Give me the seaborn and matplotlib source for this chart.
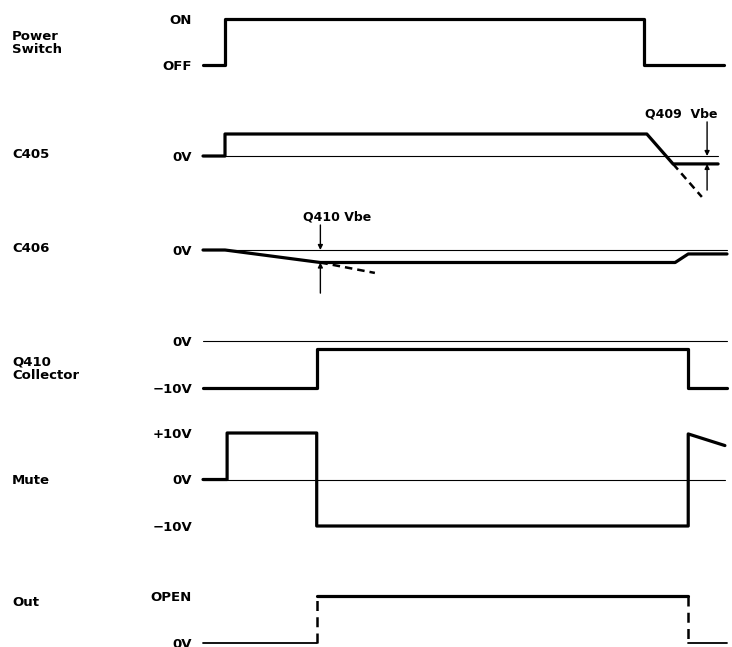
import numpy as np
import pandas as pd
import matplotlib
matplotlib.use("Agg")
import matplotlib.pyplot as plt
import seaborn as sns

sns.set_style("white")
plt.rcParams['font.family'] = ['DejaVu Sans']
plt.rcParams['text.color'] = 'black'
plt.rcParams['ytick.color'] = 'black'
plt.rcParams['ytick.labelcolor'] = 'black'

# ---------------- data (time in arbitrary units, levels in each signal's units) -------------
row_names = ["Power\nSwitch", "C405", "C406", "Q410\nCollector", "Mute", "Out"]

power_t = [0, 4.2, 4.2, 84.2, 84.2, 99.4]
power_v = [0, 0, 1, 1, 0, 0]
power_ticks = [0, 1]
power_ticklabels = ["OFF", "ON"]

c405_t = [0, 4.2, 4.2, 84.7, 89.7, 98.3]
c405_v = [0, 0, 1, 1, -0.36, -0.36]
c405_zero_t = [0, 98.3]
c405_dash_t = [89.7, 95.2]
c405_dash_v = [-0.36, -1.86]
c405_ticks = [0]
c405_ticklabels = ["0V"]

c406_t = [0, 4.2, 22.4, 90.1, 92.6, 100.0]
c406_v = [0, 0, -0.6, -0.6, -0.19, -0.19]
c406_zero_t = [0, 100.0]
c406_dash_t = [22.4, 32.8]
c406_dash_v = [-0.6, -1.1]
c406_ticks = [0]
c406_ticklabels = ["0V"]

q410_t = [0, 21.7, 21.7, 92.6, 92.6, 100.0]
q410_v = [-10, -10, -1.7, -1.7, -10, -10]
q410_zero_t = [0, 100.0]
q410_ticks = [0, -10]
q410_ticklabels = ["0V", "\u221210V"]

mute_t = [0, 4.6, 4.6, 21.7, 21.7, 92.6, 92.6, 99.6]
mute_v = [0, 0, 10, 10, -10, -10, 9.8, 7.3]
mute_zero_t = [0, 99.6]
mute_ticks = [10, 0, -10]
mute_ticklabels = ["+10V", "0V", "\u221210V"]

out_low1_t = [0, 21.8]
out_high_t = [21.8, 92.6]
out_low2_t = [92.6, 100.0]
out_ticks = [1, 0]
out_ticklabels = ["OPEN", "0V"]

# ---------------- layout --------------------------------------------------------------
W, H = 732, 647
fig = plt.figure(figsize=(W / 100, H / 100), dpi=100)
X0 = 203  # px where the waveform area starts
PX_PER_T = 5.24

# (value_a, px_a, value_b, px_b) vertical calibration for each row
calib = [
    (1, 19, 0, 65),
    (1, 134, 0, 156),
    (0, 250, -0.6, 262.5),
    (0, 341, -10, 388),
    (10, 433, -10, 526),
    (1, 596, 0, 643),
]
label_y = [43, 155, 248, 369, 480, 602]

THICK = 2.3
THIN = 0.8
BLACK = "black"
FS_TICK = 9.5
FS_ROW = 9.5
FS_ANN = 9.0


def make_ax(i):
    ax = fig.add_axes([X0 / W, 0, (W - X0) / W, 1])
    ax.patch.set_alpha(0)
    va, pa, vb, pb = calib[i]
    s = (pb - pa) / (va - vb)  # px per unit
    hi = va + pa / s
    lo = hi - H / s
    ax.set_ylim(lo, hi)
    ax.set_xlim(0, (W - X0) / PX_PER_T)
    fig.text(12 / W, 1 - label_y[i] / H, row_names[i], ha="left", va="center",
             fontsize=FS_ROW, fontweight="bold", linespacing=1.05, color=BLACK)
    return ax


def finish(ax, ticks, labels):
    for sp in ax.spines.values():
        sp.set_visible(False)
    ax.set_xticks([])
    ax.set_yticks(ticks, labels)
    ax.tick_params(axis="y", length=0, pad=8, labelsize=FS_TICK, labelcolor=BLACK)
    for lab in ax.get_yticklabels():
        lab.set_fontweight("bold")
    ax.set_ylabel("")
    ax.set_xlabel("")
    leg = ax.get_legend()
    if leg is not None:
        leg.remove()


def line(ax, t, v, lw=THICK, **kw):
    df = pd.DataFrame({"t": t, "v": v})
    sns.lineplot(data=df, x="t", y="v", sort=False, estimator=None, ax=ax,
                 color=BLACK, linewidth=lw, clip_on=False, **kw)


def arrow(ax, x, y_to, y_from):
    ax.annotate("", xy=(x, y_to), xytext=(x, y_from),
                arrowprops=dict(arrowstyle="-|>", color=BLACK, lw=1.0,
                                mutation_scale=7, shrinkA=0, shrinkB=0))


# Power switch
ax = make_ax(0)
line(ax, power_t, power_v)
finish(ax, power_ticks, power_ticklabels)

# C405
ax = make_ax(1)
line(ax, c405_zero_t, [0, 0], lw=THIN)
line(ax, c405_t, c405_v)
line(ax, c405_dash_t, c405_dash_v, lw=1.8, linestyle=(0, (3, 2)))
arrow(ax, 96.2, 0, 1.55)
arrow(ax, 96.2, -0.36, -1.55)
ax.text(84.3, 1.9, "Q409  Vbe", ha="left", va="center", fontsize=FS_ANN,
        fontweight="bold", color=BLACK)
finish(ax, c405_ticks, c405_ticklabels)

# C406
ax = make_ax(2)
line(ax, c406_zero_t, [0, 0], lw=THIN)
line(ax, c406_t, c406_v)
line(ax, c406_dash_t, c406_dash_v, lw=1.8, linestyle=(0, (3, 2)))
arrow(ax, 22.4, 0, 1.2)
arrow(ax, 22.4, -0.6, -2.07)
ax.text(19.1, 1.58, "Q410 Vbe", ha="left", va="center", fontsize=FS_ANN,
        fontweight="bold", color=BLACK)
finish(ax, c406_ticks, c406_ticklabels)

# Q410 collector
ax = make_ax(3)
line(ax, q410_zero_t, [0, 0], lw=THIN)
line(ax, q410_t, q410_v)
finish(ax, q410_ticks, q410_ticklabels)

# Mute
ax = make_ax(4)
line(ax, mute_zero_t, [0, 0], lw=THIN)
line(ax, mute_t, mute_v)
finish(ax, mute_ticks, mute_ticklabels)

# Out
ax = make_ax(5)
line(ax, out_low1_t, [0, 0], lw=1.3)
line(ax, out_high_t, [1, 1])
line(ax, out_low2_t, [0, 0], lw=1.3)
line(ax, [out_low1_t[1], out_low1_t[1]], [0, 1], lw=1.8, linestyle=(0, (4, 2.5)))
line(ax, [out_low2_t[0], out_low2_t[0]], [1, 0], lw=1.8, linestyle=(0, (4, 2.5)))
finish(ax, out_ticks, out_ticklabels)

fig.savefig("out.png", dpi=100, facecolor="white")
